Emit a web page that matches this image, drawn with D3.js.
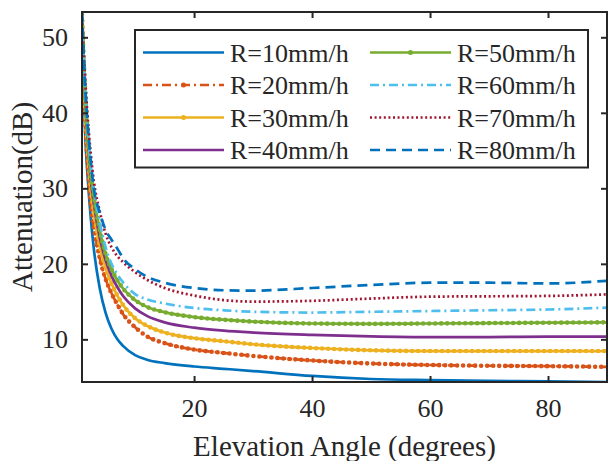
<!DOCTYPE html>
<html>
<head>
<meta charset="utf-8">
<script src="https://cdn.jsdelivr.net/npm/d3@7"></script>
<style>
  body { margin: 0; background: #fff; }
  svg { display: block; }
  text { font-family: 'Liberation Serif', 'Times New Roman', serif; fill: #262626; }
</style>
</head>
<body>
<svg id="chart" width="608" height="461"></svg>
<script>
// elevation angle (deg) and attenuation (dB)
const angles = [1, 1.5, 2, 2.5, 3, 4, 5, 6, 7, 8, 10, 12, 15, 20, 25, 30, 40, 50, 60, 70, 80, 90]
const r10 = [53.3, 38, 31, 26, 22, 16.8, 13.5, 11.4, 10, 9.1, 7.9, 7.3, 6.85, 6.4, 6.1, 5.8, 5.15, 4.75, 4.6, 4.5, 4.45, 4.35]
const r20 = [51, 40, 33, 28, 25, 20.8, 18, 16.1, 14.6, 13.3, 11.6, 10.4, 9.5, 8.65, 8.2, 7.8, 7.2, 6.8, 6.6, 6.5, 6.45, 6.35]
const r30 = [52, 41.5, 35, 30, 27, 22.5, 19.5, 17.4, 15.8, 14.5, 12.8, 11.8, 10.9, 10.15, 9.75, 9.35, 8.85, 8.55, 8.45, 8.45, 8.45, 8.45]
const r40 = [52.5, 42.5, 36, 31, 28, 23.5, 20.5, 18.4, 16.9, 15.7, 14.1, 13.1, 12.25, 11.55, 11.15, 10.9, 10.6, 10.4, 10.3, 10.3, 10.35, 10.35]
const r50 = [53, 43.5, 37, 32, 29, 24.5, 21.3, 19.3, 17.8, 16.7, 15.2, 14.3, 13.6, 12.95, 12.6, 12.35, 12.1, 12.05, 12.1, 12.15, 12.2, 12.25]
const r60 = [53, 44, 37.5, 33, 30, 25.5, 22.2, 20, 18.6, 17.5, 16, 15.3, 14.75, 14.15, 13.85, 13.65, 13.55, 13.65, 13.75, 13.85, 13.95, 14.2]
const r70 = [52.5, 45, 39, 34.5, 31, 27, 24, 22.2, 21, 20.2, 18.9, 17.9, 16.8, 15.8, 15.2, 15.0, 15.1, 15.4, 15.65, 15.7, 15.75, 15.95]
const r80 = [53.35, 44, 38, 33.5, 30, 26.8, 24.5, 23.2, 22, 20.7, 19.3, 18.3, 17.5, 16.8, 16.5, 16.45, 16.8, 17.2, 17.5, 17.5, 17.4, 17.75]
const seriesNames = ['R=10mm/h', 'R=20mm/h', 'R=30mm/h', 'R=40mm/h', 'R=50mm/h', 'R=60mm/h', 'R=70mm/h', 'R=80mm/h']
const xTicks = [20, 40, 60, 80]
const yTicks = [10, 20, 30, 40, 50]

const allSeries = [r10, r20, r30, r40, r50, r60, r70, r80]
const colors = ['#0072BD', '#D95319', '#EDB120', '#7E2F8E', '#77AC30', '#4DBEEE', '#A2142F', '#0072BD']
const dashes = [null, '9,4,2,4', null, null, null, '9,4,2,4', '2,2.6', '10,6']
const dotted = [false, true, true, false, true, false, false, false]

const plotLeft = 82, plotRight = 607, plotTop = 12, plotBottom = 382
const svg = d3.select('#chart')

const x = d3.scaleLinear().domain(d3.extent(angles)).range([plotLeft, plotRight])
const y = d3.scaleLinear().domain(d3.extent(allSeries.flat())).range([plotBottom, plotTop])

svg.append('defs').append('clipPath').attr('id', 'plotClip')
  .append('rect')
  .attr('x', plotLeft).attr('y', plotTop)
  .attr('width', plotRight - plotLeft).attr('height', plotBottom - plotTop)

const plot = svg.append('g').attr('clip-path', 'url(#plotClip)')
const line = d3.line()
  .x(d => x(d[0]))
  .y(d => y(d[1]))
  .curve(d3.curveMonotoneX)

allSeries.forEach((vals, i) => {
  const pts = angles.map((a, j) => [a, vals[j]])
  plot.append('path')
    .attr('d', line(pts))
    .attr('fill', 'none')
    .attr('stroke', colors[i])
    .attr('stroke-width', 2.7)
    .attr('stroke-dasharray', dashes[i])
  if (dotted[i]) {
    // dot markers along the curve
    plot.append('path')
      .attr('d', line(pts))
      .attr('fill', 'none')
      .attr('stroke', colors[i])
      .attr('stroke-width', 4.6)
      .attr('stroke-linecap', 'round')
      .attr('stroke-dasharray', '0,6')
  }
})

// axes
const axisColor = '#262626'
const tickLen = 6
const xAxis = d3.axisBottom(x).tickValues(xTicks).tickSize(-tickLen).tickPadding(22)
const yAxis = d3.axisLeft(y).tickValues(yTicks).tickSize(-tickLen).tickPadding(14)

const gx = svg.append('g').attr('transform', `translate(0,${plotBottom})`).call(xAxis)
const gy = svg.append('g').attr('transform', `translate(${plotLeft},0)`).call(yAxis)
svg.append('g').attr('transform', `translate(0,${plotTop})`)
  .call(d3.axisTop(x).tickValues(xTicks).tickSize(-tickLen).tickFormat(''))
svg.append('g').attr('transform', `translate(${plotRight},0)`)
  .call(d3.axisRight(y).tickValues(yTicks).tickSize(-tickLen).tickFormat(''))

svg.selectAll('.domain').remove()
svg.selectAll('.tick line').attr('stroke', axisColor).attr('stroke-width', 2)
svg.selectAll('.tick text')
  .attr('font-family', "'Liberation Serif', serif")
  .attr('font-size', 26)
  .attr('fill', axisColor)
gx.selectAll('.tick text').attr('dy', '0.5em')

svg.append('rect')
  .attr('x', plotLeft).attr('y', plotTop)
  .attr('width', plotRight - plotLeft).attr('height', plotBottom - plotTop)
  .attr('fill', 'none')
  .attr('stroke', axisColor)
  .attr('stroke-width', 2)

svg.append('text')
  .attr('x', (plotLeft + plotRight) / 2)
  .attr('y', 456)
  .attr('text-anchor', 'middle')
  .attr('font-size', 29)
  .text('Elevation Angle (degrees)')

svg.append('text')
  .attr('transform', `translate(32,${(plotTop + plotBottom) / 2}) rotate(-90)`)
  .attr('text-anchor', 'middle')
  .attr('font-size', 29)
  .text('Attenuation(dB)')

// legend
const legend = svg.append('g')
legend.append('rect')
  .attr('x', 135).attr('y', 30)
  .attr('width', 453).attr('height', 137.5)
  .attr('fill', '#fff')
  .attr('stroke', axisColor)
  .attr('stroke-width', 2)

seriesNames.forEach((name, i) => {
  const col = Math.floor(i / 4)
  const row = i % 4
  const x0 = col === 0 ? 143 : 370
  const ly = 52.5 + row * 32.5
  legend.append('line')
    .attr('x1', x0).attr('x2', x0 + 81)
    .attr('y1', ly).attr('y2', ly)
    .attr('stroke', colors[i])
    .attr('stroke-width', 2.5)
    .attr('stroke-dasharray', dashes[i])
  if (dotted[i]) {
    legend.append('circle')
      .attr('cx', x0 + 40.5).attr('cy', ly)
      .attr('r', 2.5)
      .attr('fill', colors[i])
  }
  legend.append('text')
    .attr('x', x0 + 87)
    .attr('y', ly + 9)
    .attr('font-size', 26)
    .text(name)
})
</script>
</body>
</html>
